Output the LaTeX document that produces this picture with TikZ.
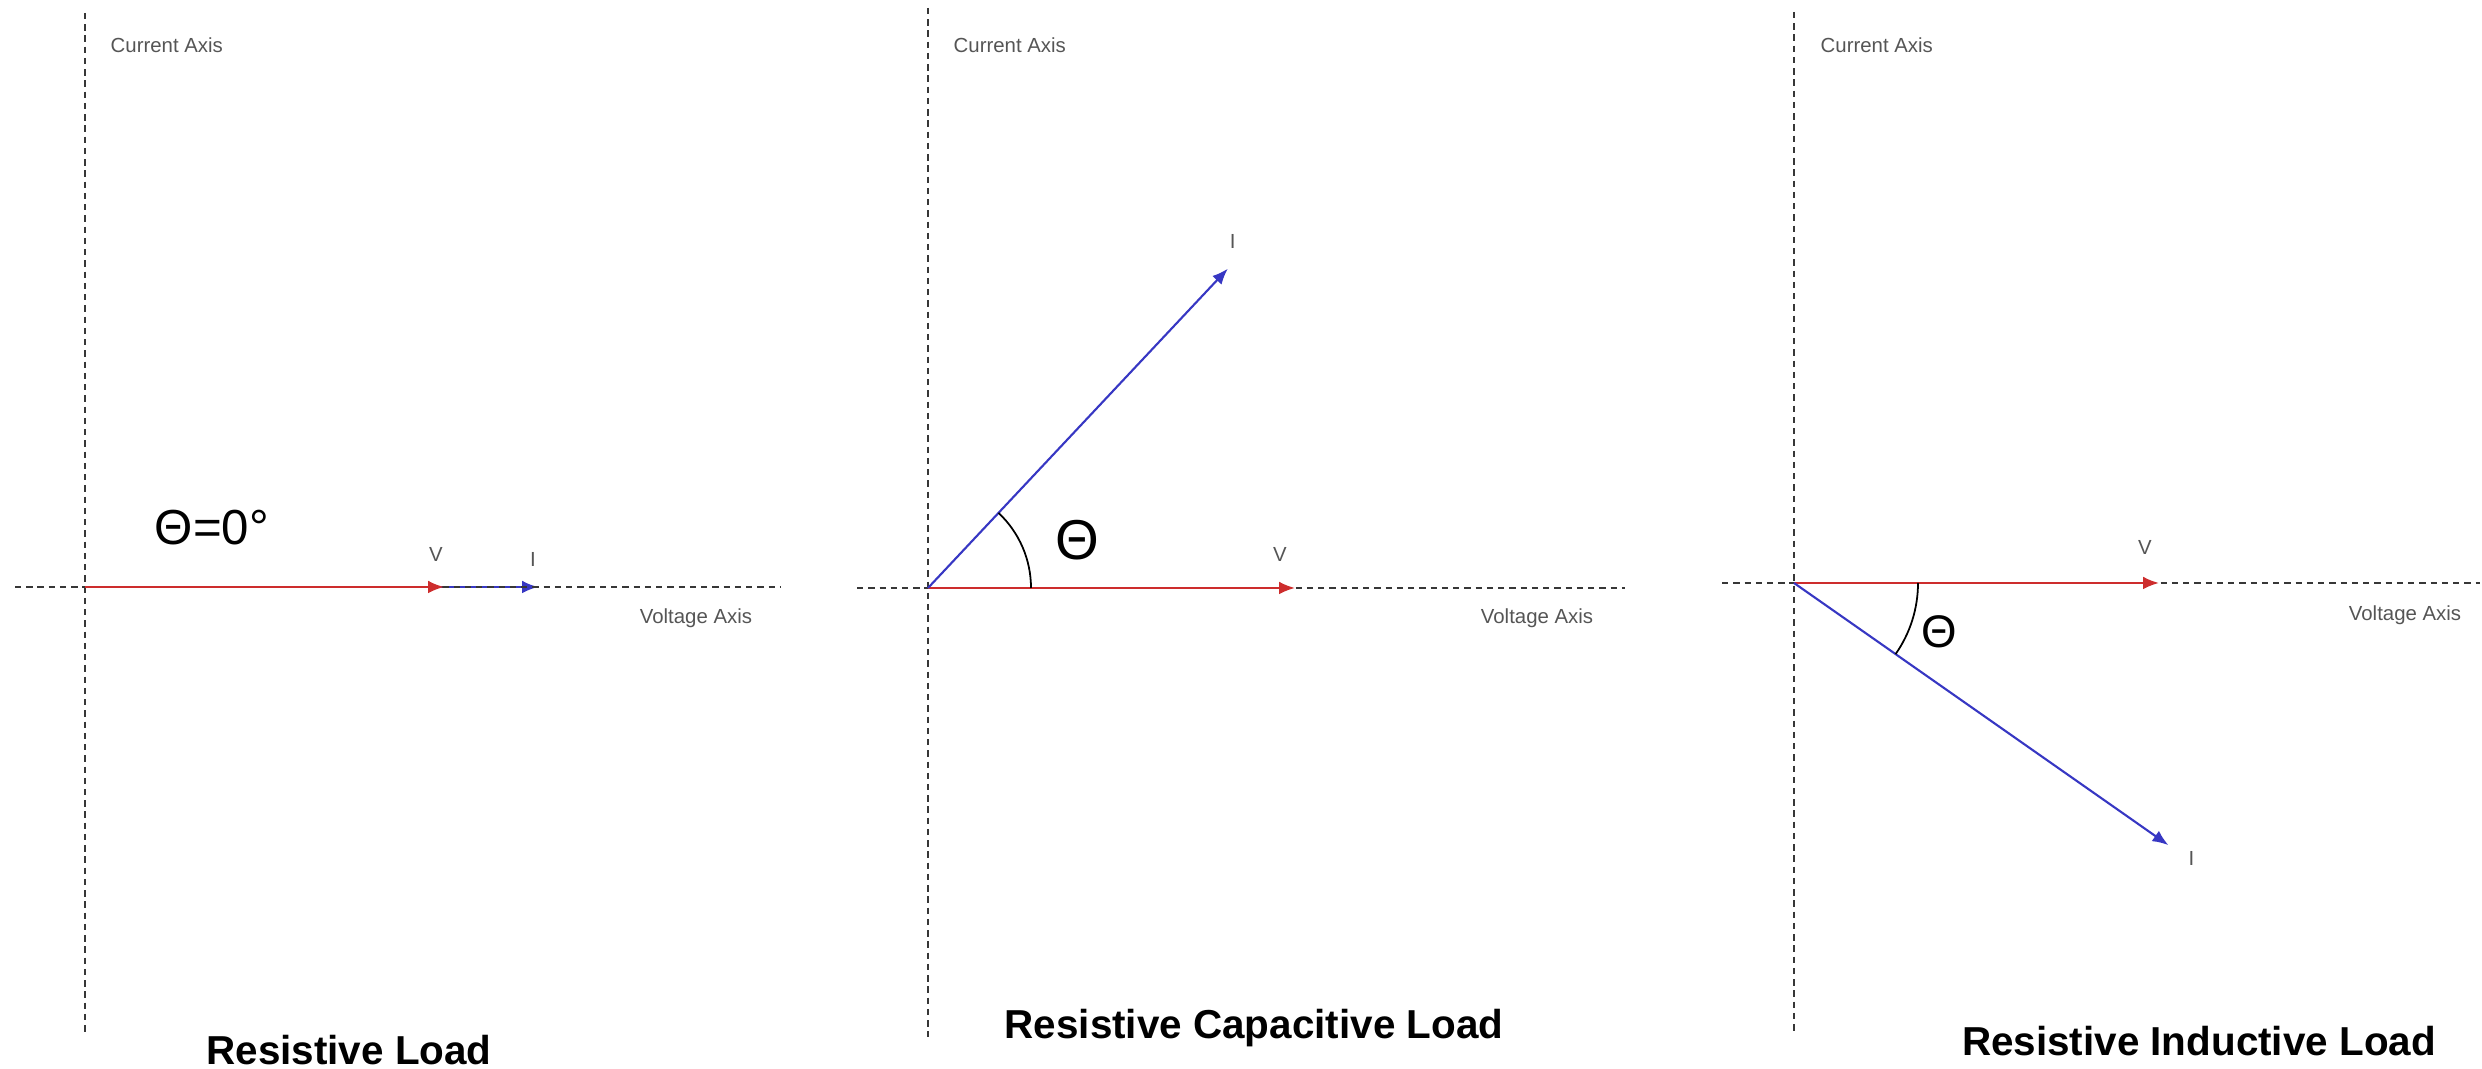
\documentclass[tikz,border=0pt]{standalone}
\usepackage{fontspec}
\setmainfont{Liberation Sans}
\usetikzlibrary{arrows.meta,calc}
\definecolor{vred}{RGB}{205,45,45}
\definecolor{iblue}{RGB}{55,55,195}
\definecolor{axisgray}{RGB}{55,55,55}
\definecolor{labelgray}{RGB}{85,85,85}

\begin{document}
\begin{tikzpicture}[>={Latex[length=4.5pt,width=3.6pt]}, font=\fontsize{5.8}{7}\selectfont,
		axis/.style={axisgray, line width=0.5pt, dash pattern=on 1.8pt off 1.4pt},
		phasor/.style={->, line width=0.6pt},
		lbl/.style={text=labelgray, inner sep=0pt},
		loadtitle/.style={inner sep=0pt, font=\fontsize{11.5}{13}\selectfont\bfseries},
		hand/.style={inner sep=0pt, font=\fontsize{16}{16}\selectfont}]
		\useasboundingbox (0,0) rectangle (24.82,10.69);
		% resistive load: I in phase with V
		\begin{scope}[shift={(0.85,4.82)}]
			\coordinate (O1) at (0,0);
			\coordinate (V1) at (3.59,0);
			\coordinate (I1) at (4.53,0);
			\coordinate (Y1t) at (0,5.74); \coordinate (Y1b) at (0,-4.48);
			\coordinate (X1l) at (-0.70,0); \coordinate (X1r) at (6.95,0);
			\draw[iblue, phasor] (O1) -- (I1);
			\draw[axis] (Y1t) -- (Y1b);
			\draw[axis] (X1l) -- (X1r);
			\draw[vred, phasor] (O1) -- (V1);
			\node[lbl] (v1lbl) at (3.51,0.32) {V};
			\node[lbl] (i1lbl) at (4.48,0.27) {I};
			\node[lbl, anchor=west] (cur1) at (0.25,5.42) {Current Axis};
			\node[lbl] (vol1) at (6.11,-0.31) {Voltage Axis};
			\node[hand, font=\fontsize{14}{14}\selectfont] (th1) at (1.27,0.59) {Θ=0°};
			\node[loadtitle] (load1) at (2.64,-4.63) {Resistive Load};
		\end{scope}
		% resistive capacitive load: I leads V
		\begin{scope}[shift={(9.28,4.81)}]
			\coordinate (O2) at (0,0);
			\coordinate (V2) at (3.67,0);
			\coordinate (I2) at (46.8:4.38);
			\coordinate (Y2t) at (0,5.80); \coordinate (Y2b) at (0,-4.49);
			\coordinate (X2l) at (-0.71,0); \coordinate (X2r) at (6.97,0);
			\draw[axis] (Y2t) -- (Y2b);
			\draw[axis] (X2l) -- (X2r);
			\draw[vred, phasor] (O2) -- (V2);
			\draw[iblue, phasor] (O2) -- (I2);
			\draw[line width=0.5pt] (1.03,0) arc (0:46.8:1.03);
			\node[lbl] (v2lbl) at (3.52,0.33) {V};
			\node[lbl] (i2lbl) at ($(I2)+(0.05,0.27)$) {I};
			\node[lbl, anchor=west] (cur2) at (0.25,5.43) {Current Axis};
			\node[lbl] (vol2) at (6.09,-0.30) {Voltage Axis};
			\node[hand] (th2) at (1.49,0.48) {Θ};
			\node[loadtitle] (load2) at (3.26,-4.40) {Resistive Capacitive Load};
		\end{scope}
		% resistive inductive load: I lags V
		\begin{scope}[shift={(17.94,4.86)}]
			\coordinate (O3) at (0,0);
			\coordinate (V3) at (3.65,0);
			\coordinate (I3) at (-35:4.57);
			\coordinate (Y3t) at (0,5.71); \coordinate (Y3b) at (0,-4.49);
			\coordinate (X3l) at (-0.72,0); \coordinate (X3r) at (6.86,0);
			\draw[axis] (Y3t) -- (Y3b);
			\draw[axis] (X3l) -- (X3r);
			\draw[vred, phasor] (O3) -- (V3);
			\draw[iblue, phasor] (O3) -- (I3);
			\draw[line width=0.5pt] (1.24,0) arc (0:-35:1.24);
			\node[lbl] (v3lbl) at (3.51,0.35) {V};
			\node[lbl] (i3lbl) at ($(I3)+(0.23,-0.13)$) {I};
			\node[lbl, anchor=west] (cur3) at (0.26,5.38) {Current Axis};
			\node[lbl] (vol3) at (6.11,-0.32) {Voltage Axis};
			\node[hand, font=\fontsize{13}{13}\selectfont] (th3) at (1.45,-0.49) {Θ};
			\node[loadtitle] (load3) at (4.05,-4.58) {Resistive Inductive Load};
		\end{scope}
	\end{tikzpicture}
\end{document}
